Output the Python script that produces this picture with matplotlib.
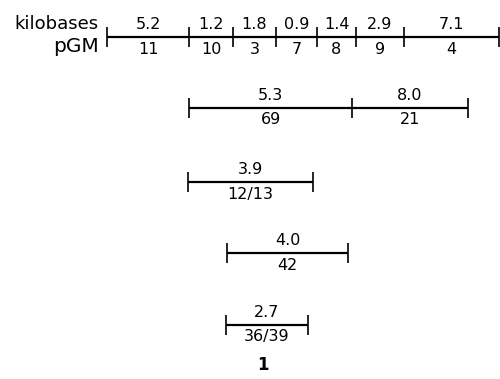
import matplotlib
matplotlib.use("Agg")
import matplotlib.pyplot as plt

# ---- data ----
main_kb = ["5.2", "1.2", "1.8", "0.9", "1.4", "2.9", "7.1"]
main_pgm = ["11", "10", "3", "7", "8", "9", "4"]
frag2_kb = ["5.3", "8.0"]
frag2_pgm = ["69", "21"]
frag3_kb = ["3.9"]
frag3_pgm = ["12/13"]
frag4_kb = ["4.0"]
frag4_pgm = ["42"]
frag5_kb = ["2.7"]
frag5_pgm = ["36/39"]
row_labels = ["kilobases", "pGM"]
figure_label = "1"

# ---- schematic layout (map coordinates) ----
rows = [
    ([107, 189, 233, 276, 317, 356, 404, 499], main_kb, main_pgm, 37),
    ([189, 352, 468], frag2_kb, frag2_pgm, 108),
    ([188, 313], frag3_kb, frag3_pgm, 182),
    ([227, 348], frag4_kb, frag4_pgm, 253),
    ([226, 308], frag5_kb, frag5_pgm, 325),
]

plt.rcParams['font.family'] = ['DejaVu Sans']
fig = plt.figure(figsize=(5.0, 3.79), dpi=100)
ax = fig.add_axes([0, 0, 1, 1])
ax.set_xlim(0, 500)
ax.set_ylim(379, 0)
ax.axis('off')

fs = 11.5
for bounds, kb, pgm, y in rows:
    ax.plot([bounds[0], bounds[-1]], [y, y], color='black', lw=1.6, solid_capstyle='butt')
    for b in bounds:
        ax.plot([b, b], [y - 10, y + 10], color='black', lw=1.2, solid_capstyle='butt')
    for i in range(len(kb)):
        xm = (bounds[i] + bounds[i + 1]) / 2
        ax.text(xm, y - 12.5, kb[i], ha='center', va='center', fontsize=fs)
        ax.text(xm, y + 12, pgm[i], ha='center', va='center', fontsize=fs)

ax.text(99, 24, row_labels[0], ha='right', va='center', fontsize=13)
ax.text(99, 46, row_labels[1], ha='right', va='center', fontsize=14.5)
ax.text(263, 365, figure_label, ha='center', va='center', fontsize=12, fontweight='bold')

fig.savefig("out.png", dpi=100)
